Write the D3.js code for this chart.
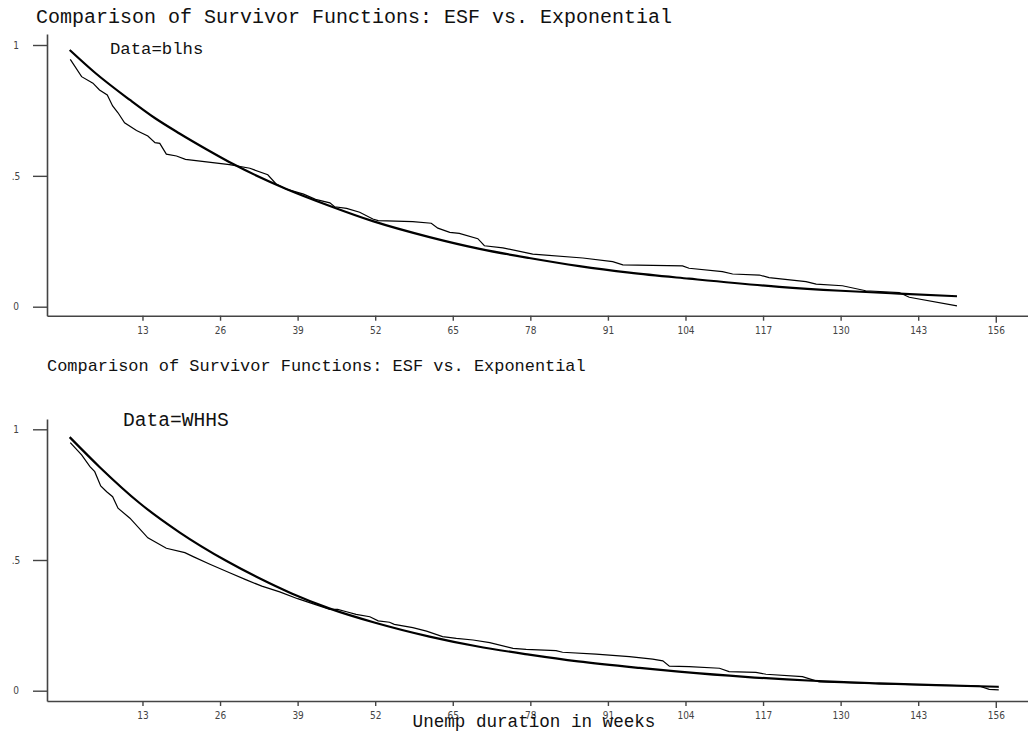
<!DOCTYPE html>
<html>
<head>
<meta charset="utf-8">
<script src="https://cdn.jsdelivr.net/npm/d3@7"></script>
<style>
  html, body { margin: 0; padding: 0; background: #fff; }
  .tick text { font-family: 'Liberation Sans Narrow', 'DejaVu Sans Condensed', 'Roboto Condensed', sans-serif; fill: #444; }
  .mono { font-family: 'Liberation Mono', 'Courier New', monospace; fill: #111; }
</style>
</head>
<body>
<div id="chart"></div>
<script>
// outer svg dimensions
const width = 1028
const height = 734

// x ticks (weeks) and y ticks shared by both panels
const xTicks = [13, 26, 39, 52, 65, 78, 91, 104, 117, 130, 143, 156]
const yTicks = [0, 0.5, 1]
const yTickLabels = ['0', '.5', '1']

// panel 1: data = blhs, empirical survivor function (weeks, share surviving)
const blhsEsfWeeks = [0.9, 2.8, 4.7, 5.8, 7.1, 8.0, 8.9, 10.0, 12.0, 13.9, 15.1, 15.9, 17.0, 18.7, 20.2, 27.6, 31.0, 34.0, 35.4, 37.1, 40.0, 42.0, 44.4, 45.2, 47.2, 49.4, 51.6, 52.5, 58.3, 61.4, 62.5, 64.5, 66.1, 69.2, 70.3, 73.4, 78.4, 86.8, 91.8, 93.5, 103.5, 104.6, 110.2, 111.9, 116.4, 118.0, 124.2, 125.9, 130.3, 134.2, 139.8, 141.5, 149.5]
const blhsEsf = [0.945, 0.879, 0.854, 0.828, 0.809, 0.767, 0.741, 0.703, 0.673, 0.652, 0.627, 0.624, 0.583, 0.576, 0.563, 0.543, 0.529, 0.504, 0.469, 0.449, 0.43, 0.41, 0.397, 0.382, 0.376, 0.361, 0.335, 0.329, 0.325, 0.319, 0.300, 0.284, 0.280, 0.260, 0.233, 0.225, 0.201, 0.186, 0.172, 0.160, 0.156, 0.147, 0.134, 0.125, 0.121, 0.111, 0.096, 0.086, 0.080, 0.061, 0.054, 0.036, 0.003]

// panel 1: fitted exponential survivor function
const blhsExpWeeks = [0.8, 5, 10.9, 15, 19.2, 24, 28.2, 37.1, 44.4, 51.6, 61.1, 69.5, 77.8, 86.2, 94.6, 104.6, 119.7, 130, 139.8, 149.5]
const blhsExp = [0.981, 0.895, 0.790, 0.722, 0.662, 0.598, 0.545, 0.450, 0.385, 0.327, 0.266, 0.221, 0.186, 0.155, 0.130, 0.107, 0.076, 0.061, 0.050, 0.040]

// panel 2: data = WHHS, empirical survivor function
const whhsEsfWeeks = [0.9, 2.8, 4.2, 5.0, 6.0, 7.0, 8.0, 8.9, 10.9, 13.9, 17.0, 20.1, 21.5, 24.3, 27.6, 30.4, 33, 36, 39, 41.5, 44.4, 45.7, 47.2, 48.8, 51.1, 52.5, 54.4, 55.2, 58.3, 60.6, 63.3, 65.6, 68.4, 71.2, 75.1, 77.3, 82.3, 83.4, 89.0, 94.6, 98.5, 100.2, 101.3, 104.6, 109.7, 111.3, 115.8, 117.5, 123.6, 126.4, 136.5, 153.2, 154.9, 156.5]
const whhsEsf = [0.949, 0.902, 0.857, 0.838, 0.783, 0.761, 0.742, 0.698, 0.660, 0.585, 0.545, 0.528, 0.513, 0.484, 0.451, 0.424, 0.400, 0.378, 0.352, 0.333, 0.311, 0.311, 0.302, 0.292, 0.283, 0.267, 0.262, 0.254, 0.241, 0.228, 0.207, 0.200, 0.194, 0.184, 0.162, 0.158, 0.153, 0.147, 0.140, 0.130, 0.121, 0.114, 0.094, 0.092, 0.086, 0.073, 0.070, 0.063, 0.054, 0.034, 0.026, 0.018, 0.005, 0.003]

// panel 2: fitted exponential survivor function
const whhsExpWeeks = [0.8, 5.8, 12.5, 19.2, 27.1, 32.6, 38, 44.4, 52, 61.1, 69, 77.8, 86, 96.3, 102.9, 114, 125.3, 136.5, 146, 156.5]
const whhsExp = [0.970, 0.856, 0.718, 0.606, 0.496, 0.430, 0.372, 0.314, 0.260, 0.207, 0.170, 0.138, 0.112, 0.087, 0.073, 0.053, 0.038, 0.028, 0.021, 0.015]

// panel layout: y position of value 0 and value 1, top/bottom of the axes
const panels = [
  { top: 34, zero: 306.7, one: 45, base: 315.7, esfX: blhsEsfWeeks, esfY: blhsEsf, expX: blhsExpWeeks, expY: blhsExp,
    title: { text: 'Comparison of Survivor Functions: ESF vs. Exponential', x: 36, y: 23, size: 20 },
    label: { text: 'Data=blhs', x: 110, y: 54, size: 17.3 } },
  { top: 419, zero: 690.7, one: 429.3, base: 701, esfX: whhsEsfWeeks, esfY: whhsEsf, expX: whhsExpWeeks, expY: whhsExp,
    title: { text: 'Comparison of Survivor Functions: ESF vs. Exponential', x: 47, y: 371, size: 16.95 },
    label: { text: 'Data=WHHS', x: 123, y: 426, size: 19.6 } }
]

// x scale, the axis line runs from x=47 to the right edge
const xScale = d3.scaleLinear().domain([-3, 161.4]).range([47, width])

const svg = d3.select('#chart').append('svg').attr('width', width).attr('height', height)

function drawPanel (p) {
  // extend the y domain so the axis line runs from p.top down to the x axis
  const per = (p.zero - p.one)
  const yScale = d3.scaleLinear()
    .domain([(p.zero - p.base) / per, (p.zero - p.top) / per])
    .range([p.base, p.top])

  const g = svg.append('g')

  // x axis
  const xAxis = g.append('g')
    .attr('transform', `translate(0 ${p.base})`)
    .call(d3.axisBottom(xScale).tickValues(xTicks).tickSize(5).tickSizeOuter(0).tickPadding(6))
  xAxis.select('.domain').attr('stroke', '#444').attr('stroke-width', 1.6)
  xAxis.selectAll('.tick line').attr('stroke', '#444').attr('stroke-width', 1.4)
    .attr('y2', d => d === 156 ? 7 : 5)
  xAxis.selectAll('.tick text').attr('font-size', 10)

  // y axis
  const yAxis = g.append('g')
    .attr('transform', `translate(${xScale(-3)} 0)`)
    .call(d3.axisLeft(yScale).tickValues(yTicks).tickSize(14).tickSizeOuter(0).tickPadding(12)
      .tickFormat((d, i) => yTickLabels[i]))
  yAxis.select('.domain').attr('stroke', '#444').attr('stroke-width', 1.6)
  yAxis.selectAll('.tick line').attr('stroke', '#444').attr('stroke-width', 1.4)
  yAxis.selectAll('.tick text').attr('font-size', 10).attr('text-anchor', 'middle').attr('x', -31)

  // exponential fit, smooth and heavy
  const expData = p.expX.map((t, i) => [t, p.expY[i]])
  g.append('path')
    .datum(expData)
    .attr('fill', 'none')
    .attr('stroke', '#000')
    .attr('stroke-width', 2.2)
    .attr('d', d3.line().x(d => xScale(d[0])).y(d => yScale(d[1])).curve(d3.curveMonotoneX))

  // empirical survivor function, thin
  const esfData = p.esfX.map((t, i) => [t, p.esfY[i]])
  g.append('path')
    .datum(esfData)
    .attr('fill', 'none')
    .attr('stroke', '#000')
    .attr('stroke-width', 1.2)
    .attr('d', d3.line().x(d => xScale(d[0])).y(d => yScale(d[1])))

  // titles
  g.append('text').attr('class', 'mono')
    .attr('x', p.title.x).attr('y', p.title.y)
    .attr('font-size', p.title.size)
    .text(p.title.text)
  g.append('text').attr('class', 'mono')
    .attr('x', p.label.x).attr('y', p.label.y)
    .attr('font-size', p.label.size)
    .text(p.label.text)
}

panels.forEach(drawPanel)

// shared x-axis title under the bottom panel
svg.append('text').attr('class', 'mono')
  .attr('x', 534).attr('y', 727)
  .attr('text-anchor', 'middle')
  .attr('font-size', 17.6)
  .text('Unemp duration in weeks')
</script>
</body>
</html>
